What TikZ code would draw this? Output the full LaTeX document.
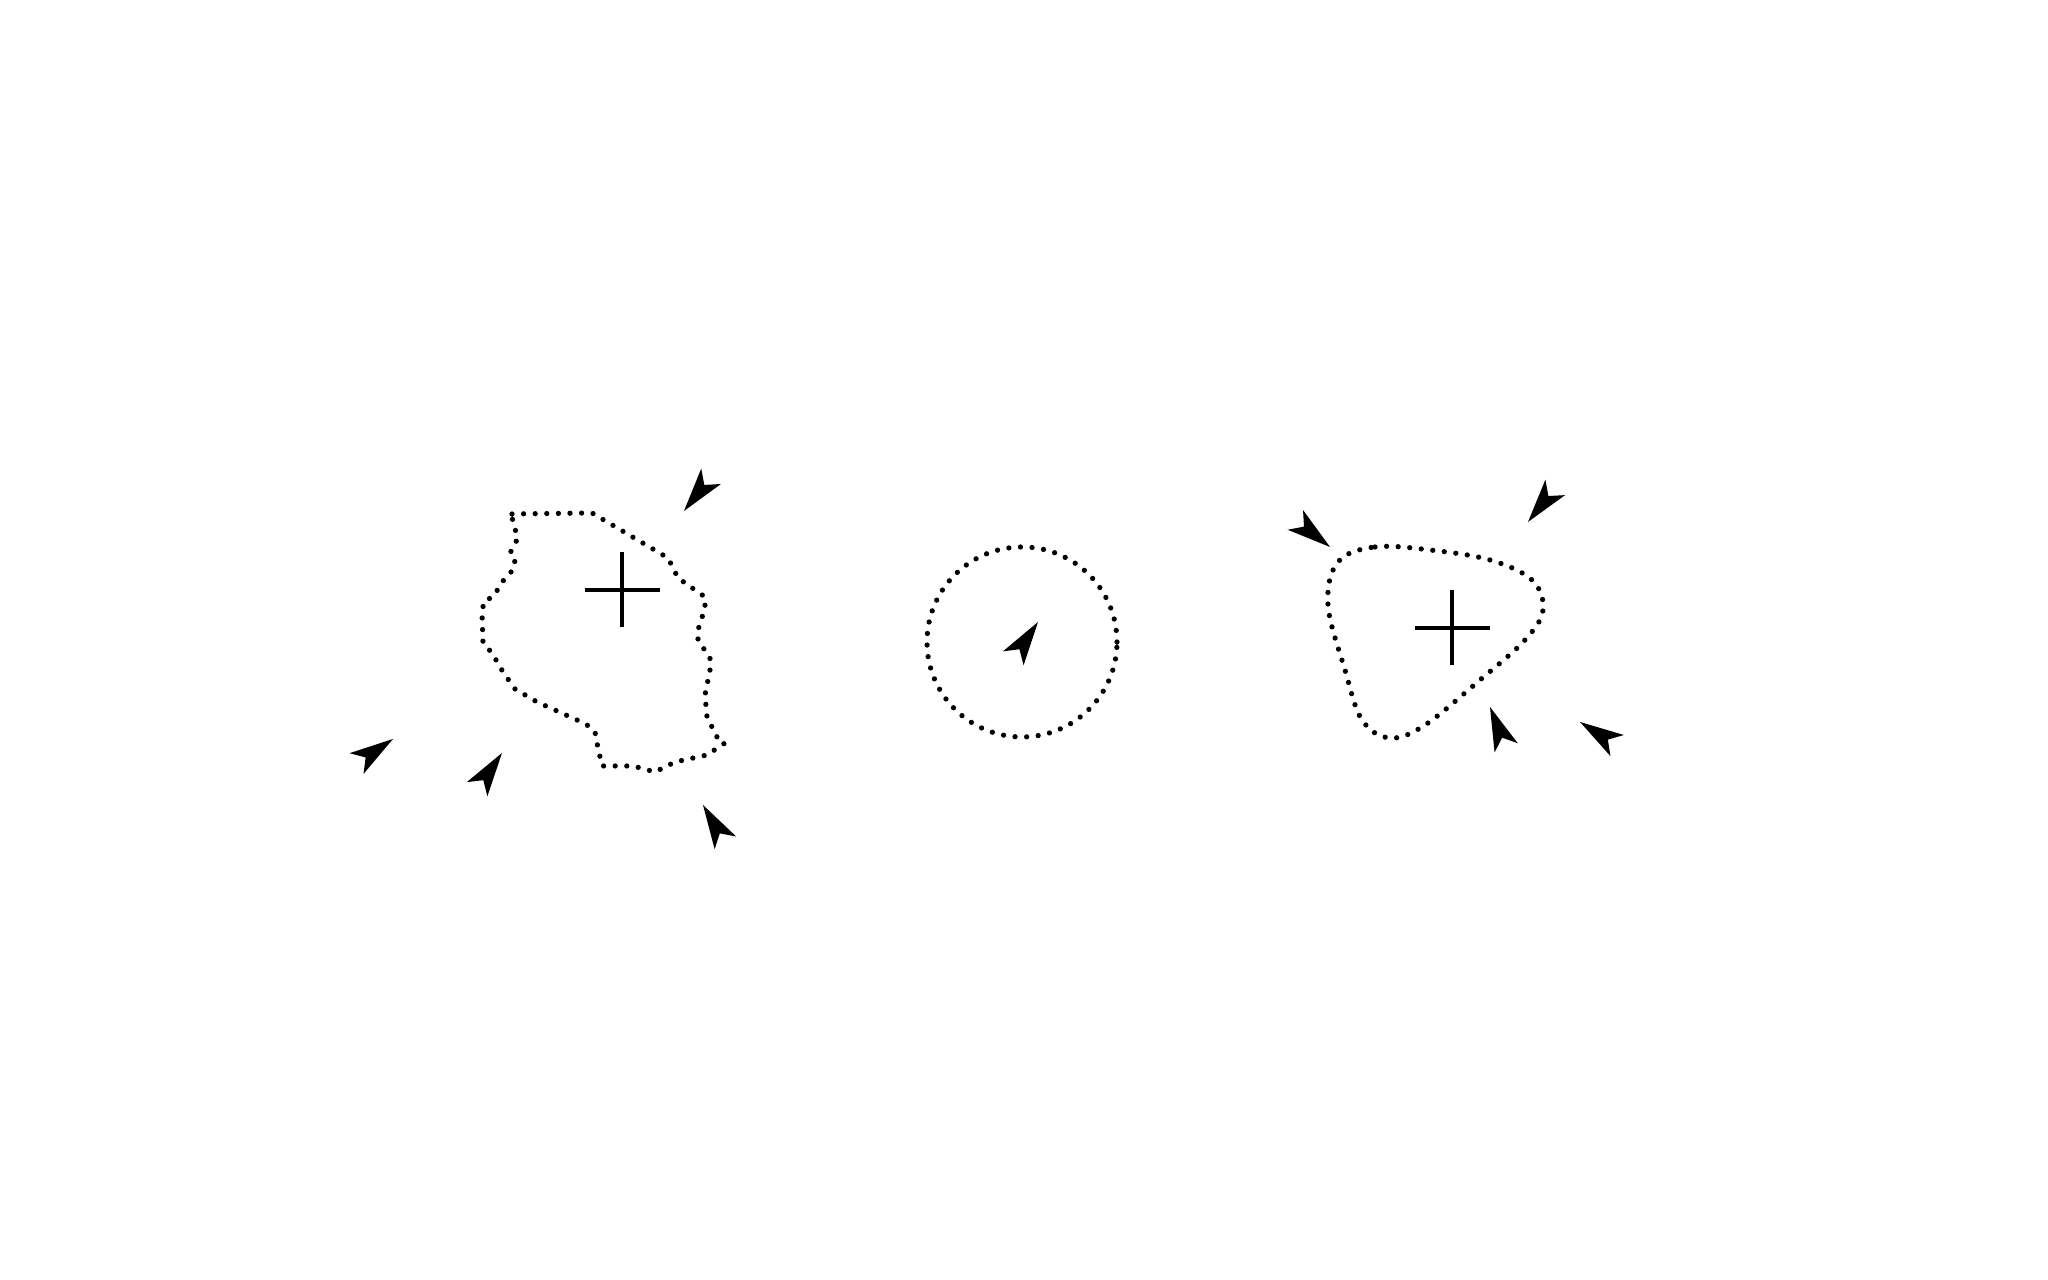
\documentclass[tikz,border=0pt]{standalone}
\usepackage{tikz}

\tikzset{
    pics/pointer/.style={
        code={\fill[black] (0,0) -- (-0.44,0.125) -- (-0.33,0) -- (-0.44,-0.125) -- cycle;}
    }
}

\begin{document}
\begin{tikzpicture}[
    dotline/.style={line width=1.5pt, line cap=round, dash pattern=on 0pt off 3.3pt},
    crossline/.style={line width=1.35pt}
]
    \useasboundingbox (0,0) rectangle (20.48,12.8);

    % Left shape: irregular outline
    \draw[dotline] (5.12,7.66) -- (5.92,7.67) -- (6.68,7.22) -- (6.73,7.12) -- (6.78,7.02)
        -- (7.05,6.83) -- (7.05,6.72) -- (6.98,6.50) -- (6.98,6.40) -- (7.10,6.22)
        -- (7.10,6.10) -- (7.05,5.85) -- (7.07,5.63) -- (7.17,5.43) -- (7.25,5.37)
        -- (7.07,5.25) -- (6.75,5.18) -- (6.55,5.08) -- (6.33,5.14) -- (6.02,5.14)
        -- (5.97,5.37) -- (5.95,5.48) -- (5.87,5.55) -- (5.77,5.60) -- (5.37,5.78)
        -- (5.15,5.91) -- (5.03,6.08) -- (4.92,6.27) -- (4.83,6.37) -- (4.82,6.67)
        -- (4.84,6.79) -- (4.93,6.83) -- (5.05,7.02) -- (5.13,7.10) -- (5.15,7.18)
        -- (5.10,7.27) -- (5.15,7.35) -- (5.18,7.44) -- (5.13,7.55) -- cycle;
    \draw[crossline] (5.845,6.90) -- (6.595,6.90) (6.22,6.525) -- (6.22,7.275);

    \pic[rotate=-128] at (6.84,7.69) {pointer};
    \pic[rotate=34] at (3.93,5.41) {pointer};
    \pic[rotate=55.5] at (5.02,5.27) {pointer};
    \pic[rotate=120.6] at (7.03,4.75) {pointer};

    % Middle shape: circle
    \draw[dotline] (10.22,6.38) circle (0.95);
    \pic[rotate=55.8] at (10.38,6.58) {pointer};

    % Right shape: rounded triangle
    \draw[dotline] plot[smooth cycle, tension=0.6] coordinates {
        (13.38,7.18) (13.75,7.33) (14.30,7.30) (14.90,7.20) (15.32,7.00)
        (15.43,6.70) (15.25,6.40) (14.80,6.00) (14.25,5.55) (13.90,5.42)
        (13.62,5.60) (13.45,6.10) (13.28,6.75)};
    \draw[crossline] (14.145,6.52) -- (14.895,6.52) (14.52,6.145) -- (14.52,6.895);

    \pic[rotate=-38] at (13.30,7.33) {pointer};
    \pic[rotate=-128.2] at (15.28,7.58) {pointer};
    \pic[rotate=111.6] at (14.90,5.73) {pointer};
    \pic[rotate=147.6] at (15.80,5.58) {pointer};
\end{tikzpicture}
\end{document}
